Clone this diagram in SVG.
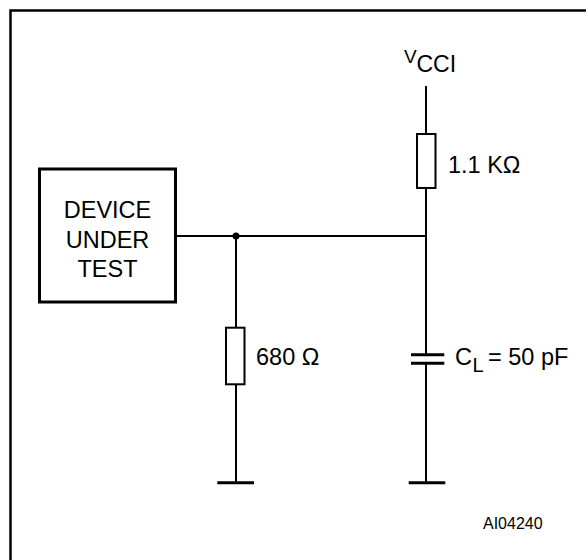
<svg xmlns="http://www.w3.org/2000/svg" width="586" height="560" viewBox="0 0 586 560">
<style>
.w{stroke:#000;stroke-width:2;fill:none}
.r{stroke:#000;stroke-width:2;fill:#fff}
.g{stroke:#000;stroke-width:3;fill:none}
text{font-family:"Liberation Sans",Arial,sans-serif;fill:#000}
.t{font-size:23.5px}
</style>
<rect width="586" height="560" fill="#fff"/>
<path d="M10.5,560 V10.5 H586" stroke="#000" stroke-width="2.5" fill="none"/>
<g id="dut">
<rect x="39.5" y="169" width="136" height="133" fill="#fff" stroke="#000" stroke-width="3"/>
<text class="t" x="107.5" y="218" text-anchor="middle">DEVICE</text>
<text class="t" x="107.5" y="248" text-anchor="middle">UNDER</text>
<text class="t" x="107.5" y="277" text-anchor="middle">TEST</text>
</g>
<g id="connectors">
<path class="w" d="M175.5,236 H427"/>
<path class="w" d="M236,236 V327.7 M236,384.3 V482.7"/>
<path class="w" d="M426,86 V134 M426,188 V354 M426,364 V482.7"/>
<circle cx="236" cy="236" r="3.5" fill="#000"/>
</g>
<g id="vcc">
<text x="404" y="63" font-size="19">V</text>
<text x="416.5" y="72" font-size="23">CCI</text>
</g>
<g id="r1">
<rect class="r" x="417" y="134" width="18.5" height="54"/>
<text class="t" x="448" y="173">1.1 KΩ</text>
</g>
<g id="r2">
<rect class="r" x="226" y="327.7" width="18.5" height="56.6"/>
<text class="t" x="256" y="365">680 Ω</text>
</g>
<g id="cl">
<path class="g" d="M411,354.7 H444.3 M411,363.3 H444.3"/>
<text class="t" x="455" y="365">C</text>
<text x="472.5" y="372" font-size="20">L</text>
<text class="t" x="488" y="365">= 50 pF</text>
</g>
<g id="gnd1"><path class="g" d="M217.3,482.7 H254"/></g>
<g id="gnd2"><path class="g" d="M408.7,482.7 H445.3"/></g>
<text x="483" y="529" font-size="16">AI04240</text>
</svg>
